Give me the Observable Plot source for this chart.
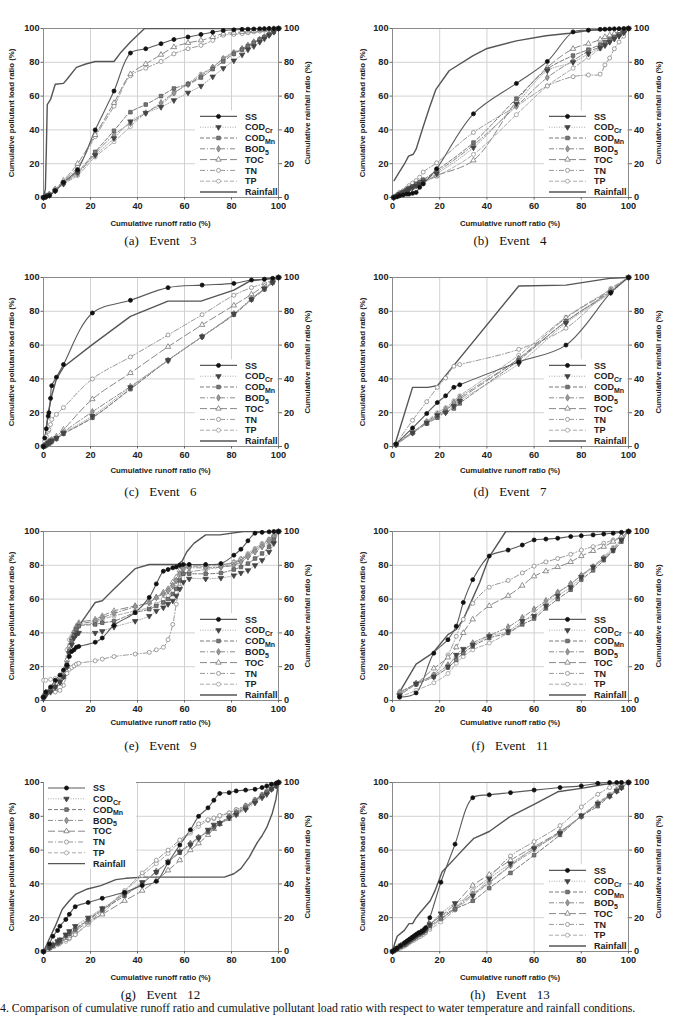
<!DOCTYPE html>
<html><head><meta charset="utf-8">
<script src="https://cdn.jsdelivr.net/npm/d3@7"></script>
<script src="https://cdn.jsdelivr.net/npm/@observablehq/plot@0.6"></script>
<style>
body{margin:0;background:#fff;}
#page{position:relative;width:673px;height:1017px;overflow:hidden;background:#fff;font-family:"Liberation Sans",Arial,sans-serif;}
.panel{position:absolute;}
.lab{position:absolute;font-weight:bold;font-size:7.8px;color:#222;white-space:nowrap;}
.rot{transform:translate(-50%,-50%) rotate(-90deg);}
.hor{transform:translate(-50%,-50%);}
.sub{position:absolute;font-family:"Liberation Serif","Times New Roman",serif;font-size:13px;color:#111;white-space:pre;transform:translate(-50%,-50%);word-spacing:2px;}
.cap{position:absolute;left:0px;top:1002px;font-family:"Liberation Serif","Times New Roman",serif;font-size:11.8px;line-height:13px;color:#111;white-space:nowrap;}
</style></head>
<body><div id="page"></div>
<script>
// ---------- shared labels ----------
const tickValues = [0, 20, 40, 60, 80, 100];
const seriesNames = ["SS", "CODCr", "CODMn", "BOD5", "TOC", "TN", "TP"];
const legendBase = ["SS", "COD", "COD", "BOD", "TOC", "TN", "TP", "Rainfall"];
const legendSub = ["", "Cr", "Mn", "5", "", "", "", ""];
const panelLabels = ["(a)  Event  3", "(b)  Event  4", "(c)  Event  6", "(d)  Event  7",
                     "(e)  Event  9", "(f)  Event  11", "(g)  Event  12", "(h)  Event  13"];
const xTitle = "Cumulative runoff ratio (%)";
const yTitle = "Cumulative pollutant load ratio (%)";
const rTitle = "Cumulative rainfall ratio (%)";
const captionText = "4. Comparison of cumulative runoff ratio and cumulative pollutant load ratio with respect to water temperature and rainfall conditions.";

// ---------- Event 3 ----------
const ev3_x     = [0, 1, 2.5, 5, 8.5, 14.5, 22, 30, 37, 43.5, 50, 55.5, 61.5, 67, 72, 76.5, 81, 84.5, 87, 89.5, 92, 94, 96, 98, 100];
const ev3_SS    = [0, 0.5, 1, 4, 9, 16.5, 40, 63, 85.5, 88, 91, 93.5, 95, 96.5, 97.8, 98.8, 99.2, 99.5, 99.6, 99.7, 99.8, 99.9, 100, 100, 100];
const ev3_CODCr = [0, 0.5, 1.5, 4, 8, 15, 25, 35, 45, 50, 53.5, 57.5, 62, 66, 71.5, 76.5, 81, 84.5, 87.5, 89.5, 92, 94, 96, 98, 100];
const ev3_CODMn = [0, 0.5, 1.5, 4, 8.5, 15, 27, 39.5, 50.5, 55, 60, 64.5, 67, 71, 76, 80.5, 85, 87.5, 89.5, 91.5, 93.5, 95, 96.5, 98, 100];
const ev3_BOD5  = [0, 0.5, 1.5, 4, 8.5, 14, 26, 37, 44, 50, 56, 62, 67, 72, 77, 82, 85.5, 88, 90, 92, 93.5, 95, 96.5, 98, 100];
const ev3_TOC   = [0, 1, 2, 5, 10, 20, 37, 56, 73, 79, 84.5, 89, 91.5, 93, 95, 97, 97.5, 98, 98.3, 98.6, 99, 99.3, 99.6, 99.8, 100];
const ev3_TN    = [0, 1, 2, 5, 9.5, 18, 36, 54, 72, 76.5, 80.5, 85, 88, 90, 93, 96, 96.5, 97, 97.5, 98, 98.5, 99, 99.5, 99.8, 100];
const ev3_TP    = [0, 0.5, 1.5, 4, 8, 13, 24, 33, 42, 50, 55, 61.5, 67.5, 73, 77, 82.5, 86, 88, 90, 92, 93.5, 95, 96.5, 98, 100];
const ev3_rainX = [0, 0.8, 1.2, 1.6, 3, 5, 8.5, 10, 14, 18, 22, 30, 33, 37, 43, 100];
const ev3_rainY = [0, 5, 28, 55, 58, 67, 67.5, 70, 77, 79, 80.5, 80.5, 86, 92, 100, 100];

// ---------- Event 4 ----------
const ev4_x     = [0.5, 2, 3, 4.5, 6, 7, 8.5, 10, 11.5, 13, 18.7, 34.3, 52.5, 65.6, 76.5, 83, 88, 90, 92, 94, 96, 98, 100];
const ev4_SS    = [0, 0.5, 1, 1.5, 2, 2, 2.5, 3, 6, 8, 17, 49.5, 67.5, 80.5, 98, 99, 99.5, 99.6, 99.7, 99.8, 99.9, 100, 100];
const ev4_CODCr = [0, 1, 2, 3, 4, 5, 6, 7, 8, 9.5, 14, 29.5, 55.5, 75, 80, 85, 88.5, 90, 92, 94, 95.5, 97.5, 100];
const ev4_CODMn = [0, 1, 2, 3, 4.5, 5.5, 6.5, 8, 9, 10.5, 16, 32.5, 58.5, 76, 84, 87.5, 90.5, 92, 93.5, 95, 96.5, 98, 100];
const ev4_BOD5  = [0, 1, 2, 3, 4, 5, 6, 7.5, 8.5, 10, 15, 31, 54, 71, 81, 86.5, 89, 91, 92.5, 94, 96, 98, 100];
const ev4_TOC   = [0, 1, 2, 3, 4, 5, 6, 7, 8, 9, 13, 22, 57, 77, 88, 91, 93.5, 95, 96, 97, 98, 99, 100];
const ev4_TN    = [0, 1.5, 3, 4, 5.5, 7, 8.5, 10, 12, 15, 20.5, 38.5, 54, 66, 71.5, 72.5, 73, 78.5, 82.5, 88, 92, 95.5, 100];
const ev4_TP    = [0, 1, 2, 3, 4, 5, 6, 7, 8, 9, 12.5, 25.5, 49, 66, 76.5, 83, 88, 90, 92, 94.5, 96.5, 98, 100];
const ev4_rainX = [0.7, 2.8, 5, 6.8, 8.8, 10, 12.8, 15.6, 18.4, 24, 34, 39.7, 52.5, 65, 75, 83.7, 100];
const ev4_rainY = [10, 14.8, 19.7, 24.5, 25.6, 28.6, 41, 53, 64, 75, 83.8, 88, 92.7, 95.7, 97.2, 99, 100];

// ---------- Event 6 ----------
const ev6_x     = [0, 0.5, 1.2, 2, 2.3, 3, 3.5, 5.5, 8.5, 20.8, 37, 53, 67.5, 81, 88.5, 94, 97.5, 100];
const ev6_SS    = [0, 5, 10.5, 18, 20, 28.5, 36, 41, 48.5, 79, 86.5, 94, 95.5, 96.5, 98.5, 99, 99.5, 100];
const ev6_CODCr = [0, 0.5, 1, 2, 2.3, 3, 3.5, 5, 8, 18, 35, 51, 65, 78.5, 87, 93.5, 97, 100];
const ev6_CODMn = [0, 0.5, 1, 1.5, 2, 2.5, 3, 4.5, 7.5, 17, 34, 51, 65, 78, 87, 93, 97, 100];
const ev6_BOD5  = [0, 0.5, 1, 2, 2.5, 3, 3.5, 5, 8.5, 20.5, 35.5, 51, 65, 78.5, 87.5, 93.5, 97.5, 100];
const ev6_TOC   = [0, 0.5, 1.5, 2.5, 3, 3.5, 4, 6, 10, 28, 43.5, 59, 72, 83.5, 90, 95, 98, 100];
const ev6_TN    = [0, 3, 6, 9, 10, 13, 16, 19, 23, 40, 53, 66, 78, 89.5, 94, 96.5, 98.5, 100];
const ev6_TP    = [0, 0.3, 0.5, 1, 1.5, 2, 3, 5, 7.5, 17, 34, 51, 65, 78, 87, 93, 97.5, 100];
const ev6_rainX = [0, 0.5, 2, 3.5, 5.5, 8.5, 20.5, 37, 53, 67, 81, 88, 100];
const ev6_rainY = [0, 3, 20, 30, 40, 47, 60, 77, 86, 86, 92.5, 98, 100];

// ---------- Event 7 ----------
const ev7_x     = [1.5, 8.5, 14.5, 19, 22.5, 26, 28.5, 53.5, 73.5, 92.5, 100];
const ev7_SS    = [1.5, 11, 19.5, 26, 30, 35, 36.5, 50, 60, 91, 100];
const ev7_CODCr = [1, 8, 14, 18.5, 20, 24, 27, 49, 73, 91, 100];
const ev7_CODMn = [1, 8, 13.5, 17, 20.5, 22.5, 25.5, 51, 74, 91.5, 100];
const ev7_BOD5  = [1.5, 8.5, 14.5, 19, 22, 26, 29, 52, 74, 92, 100];
const ev7_TOC   = [1.5, 8.5, 14, 18, 21.5, 25, 28, 52, 76, 92.5, 100];
const ev7_TN    = [1.5, 15.5, 26.5, 35, 40.5, 47.5, 48.5, 57.5, 70, 93.5, 100];
const ev7_TP    = [1.5, 8, 15, 20, 23, 27, 30, 54, 76.5, 93, 100];
const ev7_rainX = [1, 8.5, 15, 19, 53.5, 73.5, 92, 100];
const ev7_rainY = [1, 35, 35, 36, 95, 95.5, 99.5, 100];

// ---------- Event 9 ----------
const ev9_x     = [0, 1, 3, 5, 7, 8.5, 10, 11, 12, 13, 14, 15, 22, 25, 30, 39, 45, 48, 51, 53, 55, 56.5, 58, 59.5, 62, 69, 75.5, 81, 84, 87, 90, 93, 96, 98, 100];
const ev9_SS    = [2, 5, 8, 12, 15, 18, 21, 26, 29, 30, 31.5, 32, 34.5, 37, 44.5, 52, 61, 69, 76.5, 77.5, 78.5, 79, 80, 80.5, 80.5, 80.5, 81, 86, 89.5, 94.5, 99, 99.5, 99.8, 100, 100];
const ev9_CODCr = [1, 3, 5, 8, 11, 14, 20, 28, 33, 37, 39, 40, 40, 41, 43.5, 47, 50, 53, 55, 57, 59, 62, 66, 70, 72, 72, 72.5, 74, 75.5, 77, 80, 83, 88, 93, 100];
const ev9_CODMn = [2, 4, 6, 8, 11, 14, 20, 29, 35, 39, 42, 44, 45, 46, 47, 52, 54, 56, 58, 60, 63, 66, 71, 75, 75, 75, 75.5, 77.5, 79, 81, 84, 87, 91, 95, 100];
const ev9_BOD5  = [2, 4, 6, 8, 11, 15, 22, 30, 36, 40, 43, 45, 47, 49, 51.5, 55.5, 58, 61, 63, 65, 68, 71, 75, 78, 78.5, 78.5, 79, 80, 82, 85, 88, 91, 94, 97, 100];
const ev9_TOC   = [3, 5, 6, 7, 10, 14, 24, 32, 37, 41, 44, 46, 48, 50, 53, 56, 58, 61, 64, 66, 70, 73, 77, 79.5, 80, 80, 80.5, 81.5, 83.5, 86, 89, 92, 95, 97.5, 100];
const ev9_TN    = [2, 5, 5, 5, 6, 9, 16, 18.5, 19.5, 20.5, 21.5, 22, 23.5, 24.5, 26, 27.5, 28.5, 30, 31.5, 36, 45, 57, 67, 75, 76, 77.5, 79, 81, 83, 86, 89, 92, 95, 97.5, 100];
const ev9_TP    = [12, 12, 12.5, 13, 14, 17, 30, 36, 38, 40, 42, 44, 46, 48, 50, 53, 55, 57, 60, 62, 65, 69, 74, 78, 79, 79.5, 80, 82, 84, 87, 90, 93, 95.5, 97.5, 100];
const ev9_rainX = [0, 3, 6, 9, 12, 15, 19, 22, 25, 30, 39, 45, 57, 59, 61, 64, 69, 75, 85, 100];
const ev9_rainY = [0, 6, 12, 20, 36, 44, 52, 58, 59, 66, 78, 80.5, 80.5, 82.5, 88, 93, 98, 98, 100, 100];

// ---------- Event 11 ----------
const ev11_x     = [3, 10, 17.5, 23.5, 27, 30, 34, 41, 49, 55, 60, 65, 70, 75.5, 80, 85, 89.5, 93.5, 97, 100];
const ev11_SS    = [2, 4.5, 28, 36, 44, 58, 71.5, 85.5, 89, 92, 95, 95.5, 96, 97, 97.5, 98, 98.5, 99, 99.5, 100];
const ev11_CODCr = [3, 10, 14, 20, 27, 30.5, 33, 38, 41, 47, 50, 56, 62, 67, 73, 79, 84, 89, 95, 100];
const ev11_CODMn = [3, 9.5, 14, 19.5, 24, 28, 32, 37, 40, 45, 48.5, 54.5, 60, 65.5, 71.5, 77, 83, 88.5, 94, 100];
const ev11_BOD5  = [4, 10, 15, 21, 26, 29, 34, 38.5, 43.5, 49, 54, 59, 64, 69, 74, 79, 84, 89.5, 95, 100];
const ev11_TOC   = [5, 10, 19, 25.5, 31.5, 40, 48, 56, 62, 68, 73.5, 76.5, 79, 82, 85.5, 88.5, 91, 94, 97, 100];
const ev11_TN    = [5, 10, 15.5, 27, 38, 48, 57.5, 67, 71, 75.5, 79.5, 82, 84, 86.5, 89, 91, 93, 95, 97, 100];
const ev11_TP    = [2, 6, 10.5, 16, 22, 26, 30, 34, 40, 46, 52, 58, 63.5, 69, 74, 79.5, 85, 90.5, 95.5, 100];
const ev11_rainX = [3, 10, 17, 23.5, 27, 30, 37, 41, 48, 100];
const ev11_rainY = [5, 21.5, 28, 39, 42, 48, 70, 85, 100, 100];

// ---------- Event 12 ----------
const ev12_x     = [0, 2.5, 4, 6, 7, 9.5, 11, 13.5, 19, 25, 34.5, 42, 48, 53, 58, 62.5, 66, 70, 72.5, 75, 79, 82, 86, 90, 93, 95, 97, 99, 100];
const ev12_SS    = [0, 4.5, 9, 12.5, 15, 19, 22, 26.5, 29, 31.5, 35, 39, 41.5, 52.5, 63, 72, 80, 85, 89.5, 93.5, 94, 95, 95.5, 96, 97, 98, 99, 99.5, 100];
const ev12_CODCr = [0, 2.5, 4, 6, 7, 10, 12, 15, 20, 25.5, 34, 41, 47, 53, 59, 63, 67, 72, 75, 76, 79, 81, 84, 88, 91, 93, 96, 98, 100];
const ev12_CODMn = [0, 2, 3.5, 5, 6, 9.5, 10.5, 13, 18.5, 24.5, 33, 40.5, 47, 53, 58.5, 63.5, 67.5, 71, 73.5, 75.5, 79.5, 82, 85, 89, 92, 94, 96, 98, 100];
const ev12_BOD5  = [0, 2.5, 4, 5.5, 6.5, 9, 11, 13.5, 19, 25, 34, 40, 47.5, 53, 59, 64, 67.5, 71, 73.5, 76, 80, 82.5, 86, 89.5, 92.5, 94.5, 96.5, 98.5, 100];
const ev12_TOC   = [0, 2, 3, 4.5, 5.5, 8, 9.5, 12, 17.5, 22, 30, 36, 42, 48, 54, 60, 64, 69, 72.5, 75.5, 78.5, 81, 85, 89, 92, 94.5, 96.5, 98.5, 100];
const ev12_TN    = [0, 2.5, 4, 5, 6, 7, 8, 10, 17, 24, 36, 46.5, 54, 60, 66, 71, 75.5, 78, 79, 80.5, 82, 84, 86.5, 90, 93, 95, 97, 99, 100];
const ev12_TP    = [0, 2, 3, 4, 5, 6, 7.5, 10, 16, 22.5, 35.5, 45, 52, 58, 65, 70, 74, 77.5, 78.5, 80, 82, 84, 86, 89.5, 92.5, 95, 97, 99, 100];
const ev12_rainX = [0, 3, 5, 8, 11, 13.8, 18.7, 24.4, 30.8, 35, 42.8, 52.8, 77, 81, 84, 87.5, 91, 93, 95, 97.4, 98.9, 100];
const ev12_rainY = [0, 9, 15, 25, 30, 34, 37, 39, 42.5, 43.3, 44, 44, 44, 46, 49, 55.7, 64.6, 68.5, 73.4, 82, 90, 100];

// ---------- Event 13 ----------
const ev13_x     = [0, 1, 2, 3.5, 5, 6, 7, 8, 9, 10, 11, 12, 13, 14, 15.8, 20.5, 26.5, 34, 41, 50, 60, 71, 80, 87, 92, 95, 97, 100];
const ev13_SS    = [0, 1, 2, 3.5, 5, 6, 7, 8, 9, 10, 11, 11.5, 12.5, 14, 20, 41, 63.5, 91, 92.7, 94, 95.5, 97, 98, 99.5, 100, 100, 100, 100];
const ev13_CODCr = [0, 1, 2, 3.5, 4.5, 5.5, 6.5, 7.5, 8.5, 9.5, 10.5, 11, 12, 13, 16, 22.5, 28.5, 33, 43, 52, 61, 70, 80.5, 87.5, 92, 95, 97, 100];
const ev13_CODMn = [0, 0.8, 1.5, 3, 4, 5, 6, 7, 8, 9, 10, 11, 11.5, 12.5, 15, 19.5, 25, 30, 37.5, 46.5, 57, 69, 80, 86, 92, 95, 97, 100];
const ev13_BOD5  = [0, 1, 2, 3.5, 4.5, 5.5, 6.5, 7.5, 8.5, 9.5, 10.5, 11.5, 12, 13, 16, 21, 25.5, 34, 41, 51, 61, 70.5, 80, 87, 92, 95, 97, 100];
const ev13_TOC   = [0, 1, 2, 3, 4, 5.5, 6.5, 7.5, 8.5, 9.5, 10.5, 11.5, 12.5, 13.5, 16, 21, 28, 39, 45.5, 54, 62, 71, 80, 88, 92, 95, 97, 100];
const ev13_TN    = [0, 0.8, 1.5, 2.5, 3.5, 4.5, 5.5, 6.5, 7.5, 8, 9, 10, 11, 11.5, 14, 19, 25.5, 36, 44, 56.5, 65, 74.5, 85.5, 93, 97, 99, 100, 100];
const ev13_TP    = [0, 0.5, 1, 2, 3, 4, 5, 6, 6.5, 7.5, 8.5, 9, 10, 11, 13, 17.5, 24.5, 33, 40.5, 50.5, 60, 71, 80, 88, 93, 96, 98, 100];
const ev13_rainX = [0, 1, 2, 5, 7, 8.5, 10, 12, 16, 18, 21, 27, 31, 34.5, 41, 50, 60, 70, 80, 90, 100];
const ev13_rainY = [0, 5, 9, 12.5, 16.5, 16.5, 20, 23.5, 30, 36, 47, 56, 62, 67, 71, 80, 87, 94.5, 96.5, 99, 100];

// ---------- styling ----------
const styles = {
  SS:    {stroke: "#5a5a5a", dash: null,      sw: 1.1, symbol: "circle",   rotate: 0,   fill: "#111", mstroke: "#111"},
  CODCr: {stroke: "#aaaaaa", dash: "1,1.5",   sw: 1,   symbol: "triangle", rotate: 180, fill: "#444", mstroke: "#444"},
  CODMn: {stroke: "#7a7a7a", dash: "4,2",     sw: 1,   symbol: "square",   rotate: 0,   fill: "#777", mstroke: "#555"},
  BOD5:  {stroke: "#8a8a8a", dash: "5,2,1,2", sw: 1,   symbol: "diamond",  rotate: 0,   fill: "#999", mstroke: "#777"},
  TOC:   {stroke: "#888888", dash: "7,3",     sw: 1,   symbol: "triangle", rotate: 0,   fill: "#fff", mstroke: "#777"},
  TN:    {stroke: "#999999", dash: "5,2,1,2", sw: 1,   symbol: "circle",   rotate: 0,   fill: "#fff", mstroke: "#888"},
  TP:    {stroke: "#aaaaaa", dash: "4,2",     sw: 1,   symbol: "circle",   rotate: 0,   fill: "#fff", mstroke: "#9a9a9a"},
  Rainfall: {stroke: "#555", dash: null, sw: 1.4}
};
const d3Symbols = {circle: d3.symbolCircle, triangle: d3.symbolTriangle, square: d3.symbolSquare, diamond: d3.symbolDiamond};
const dotR = 2;

const panels = [
  {x: ev3_x,  ys: [ev3_SS, ev3_CODCr, ev3_CODMn, ev3_BOD5, ev3_TOC, ev3_TN, ev3_TP], rx: ev3_rainX, ry: ev3_rainY, legend: "br"},
  {x: ev4_x,  ys: [ev4_SS, ev4_CODCr, ev4_CODMn, ev4_BOD5, ev4_TOC, ev4_TN, ev4_TP], rx: ev4_rainX, ry: ev4_rainY, legend: "br"},
  {x: ev6_x,  ys: [ev6_SS, ev6_CODCr, ev6_CODMn, ev6_BOD5, ev6_TOC, ev6_TN, ev6_TP], rx: ev6_rainX, ry: ev6_rainY, legend: "br"},
  {x: ev7_x,  ys: [ev7_SS, ev7_CODCr, ev7_CODMn, ev7_BOD5, ev7_TOC, ev7_TN, ev7_TP], rx: ev7_rainX, ry: ev7_rainY, legend: "br"},
  {x: ev9_x,  ys: [ev9_SS, ev9_CODCr, ev9_CODMn, ev9_BOD5, ev9_TOC, ev9_TN, ev9_TP], rx: ev9_rainX, ry: ev9_rainY, legend: "br"},
  {x: ev11_x, ys: [ev11_SS, ev11_CODCr, ev11_CODMn, ev11_BOD5, ev11_TOC, ev11_TN, ev11_TP], rx: ev11_rainX, ry: ev11_rainY, legend: "br"},
  {x: ev12_x, ys: [ev12_SS, ev12_CODCr, ev12_CODMn, ev12_BOD5, ev12_TOC, ev12_TN, ev12_TP], rx: ev12_rainX, ry: ev12_rainY, legend: "tl"},
  {x: ev13_x, ys: [ev13_SS, ev13_CODCr, ev13_CODMn, ev13_BOD5, ev13_TOC, ev13_TN, ev13_TP], rx: ev13_rainX, ry: ev13_rainY, legend: "br"}
];

// layout
const page = document.getElementById("page");
const colLeft = [0, 336], colW = [336, 337];
const mLeft = [43, 56], mRight = [58, 45];
const plotTop = [28, 277, 531, 782];
const mTop = 16, mBottom = 30, plotH = 169;
const xLabOff = [26, 24, 22, 26], subOff = [44, 46, 46, 44];
const yLabX = [10.5, 362], rLabX = [307, 658];

function addDiv(cls, text, left, top) {
  const d = document.createElement("div");
  d.className = cls; d.textContent = text;
  d.style.left = left + "px"; d.style.top = top + "px";
  page.appendChild(d); return d;
}

panels.forEach((p, i) => {
  const col = i % 2, row = Math.floor(i / 2);
  const W = colW[col], H = mTop + plotH + mBottom;
  const rows = [];
  seriesNames.forEach((s, k) => p.x.forEach((xv, j) => rows.push({s, x: xv, y: p.ys[k][j]})));
  const rain = p.rx.map((xv, j) => ({x: xv, y: p.ry[j]}));
  const marks = [
    Plot.gridX(tickValues, {stroke: "#d2d2d2", strokeOpacity: 1}),
    Plot.gridY(tickValues, {stroke: "#d2d2d2", strokeOpacity: 1}),
    Plot.frame({stroke: "#8a8a8a"}),
    Plot.axisX(tickValues, {tickSize: 2.5, tickPadding: 2.5, label: null, stroke: "#666"}),
    Plot.axisY(tickValues, {anchor: "left", tickSize: 2.5, tickPadding: 1.5, label: null, stroke: "#666"}),
    Plot.axisY(tickValues, {anchor: "right", tickSize: 3, tickPadding: 2.5, label: null, stroke: "#666"}),
    Plot.line(rain, {x: "x", y: "y", stroke: styles.Rainfall.stroke, strokeWidth: styles.Rainfall.sw, clip: true})
  ];
  seriesNames.slice().reverse().forEach(s => {
    const st = styles[s];
    const data = rows.filter(r => r.s === s);
    marks.push(Plot.line(data, {x: "x", y: "y", stroke: st.stroke, strokeWidth: st.sw, strokeDasharray: st.dash || undefined, curve: "catmull-rom", clip: true}));
  });
  seriesNames.slice().reverse().forEach(s => {
    const st = styles[s];
    const data = rows.filter(r => r.s === s);
    marks.push(Plot.dot(data, {x: "x", y: "y", symbol: () => st.symbol, r: dotR, fill: st.fill, stroke: st.mstroke, strokeWidth: 0.8, rotate: st.rotate}));
  });
  const chart = Plot.plot({
    width: W, height: H, marginTop: mTop, marginBottom: mBottom, marginLeft: mLeft[col], marginRight: mRight[col],
    x: {domain: [0, 100]}, y: {domain: [0, 100]},
    symbol: {type: "identity"},
    style: {fontFamily: "'Liberation Sans', Arial, sans-serif", fontSize: "9.2px", fontWeight: "bold", color: "#222", background: "transparent"},
    marks
  });
  // legend
  const svg = d3.select(chart);
  const g = svg.append("g").attr("text-anchor", "start");
  const L = mLeft[col], R = W - mRight[col];
  const rowH = 10.8;
  let x0, y0, bgX, bgW;
  if (p.legend === "tl") { x0 = L + 5; y0 = mTop + 6; bgX = L + 1; bgW = 92; }
  else { x0 = L + 157; y0 = mTop + plotH - 5 - 7 * rowH; bgX = x0 - 5; bgW = R - bgX - 1; }
  g.append("rect").attr("x", bgX).attr("y", y0 - 6).attr("width", bgW).attr("height", 7 * rowH + 11).attr("fill", "#fff");
  legendBase.forEach((name, k) => {
    const key = k < 7 ? seriesNames[k] : "Rainfall";
    const st = styles[key];
    const y = y0 + k * rowH;
    g.append("line").attr("x1", x0).attr("x2", x0 + 37).attr("y1", y).attr("y2", y)
      .attr("stroke", st.stroke).attr("stroke-width", st.sw).attr("stroke-dasharray", st.dash || null);
    if (k < 7) {
      g.append("path").attr("d", d3.symbol(d3Symbols[st.symbol], Math.PI * dotR * dotR)())
        .attr("transform", `translate(${x0 + 18.5},${y}) rotate(${st.rotate})`)
        .attr("fill", st.fill).attr("stroke", st.mstroke).attr("stroke-width", 0.8);
    }
    const t = g.append("text").attr("x", x0 + 45).attr("y", y).attr("dy", "0.35em").attr("text-anchor", "start")
      .attr("font-size", "9px").attr("font-weight", "bold").attr("fill", "#222").text(name);
    if (legendSub[k]) t.append("tspan").attr("font-size", "7px").attr("dy", "2.6").text(legendSub[k]);
  });
  const wrap = document.createElement("div");
  wrap.className = "panel";
  wrap.style.left = colLeft[col] + "px";
  wrap.style.top = (plotTop[row] - mTop) + "px";
  wrap.appendChild(chart);
  page.appendChild(wrap);
  const cx = colLeft[col] + (L + R) / 2;
  const cy = plotTop[row] + plotH / 2;
  addDiv("lab rot", yTitle, yLabX[col], cy);
  addDiv("lab rot", rTitle, rLabX[col], cy);
  addDiv("lab hor", xTitle, cx, plotTop[row] + plotH + xLabOff[row]);
  addDiv("sub", panelLabels[i], cx, plotTop[row] + plotH + subOff[row]);
});
const cap = document.createElement("div");
cap.className = "cap"; cap.textContent = captionText;
page.appendChild(cap);
</script>
</body></html>
